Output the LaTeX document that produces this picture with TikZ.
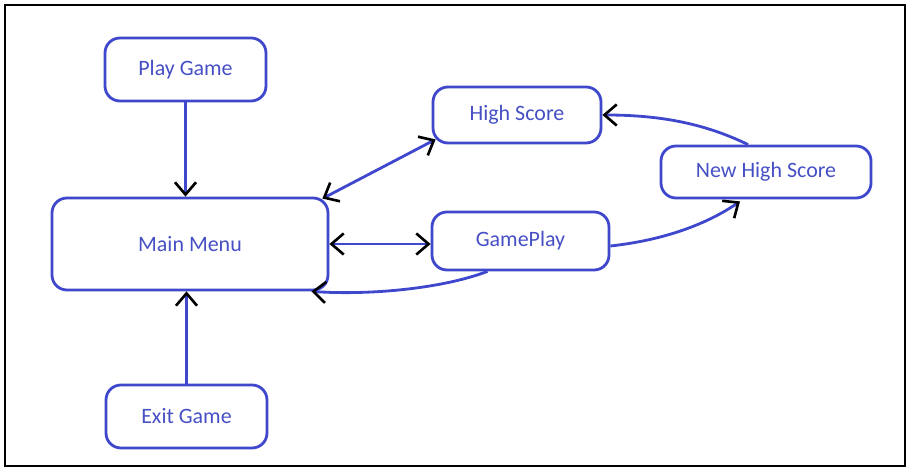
\documentclass[tikz,border=0pt]{standalone}
\usepackage{fontspec}
\setmainfont{Carlito}
\usetikzlibrary{positioning, arrows.meta, calc}
\definecolor{mnblue}{HTML}{3F48CC}
\definecolor{mntext}{HTML}{4650C4}

\begin{document}
\begin{tikzpicture}[x=0.02cm, y=-0.02cm,
    state/.style={draw=mnblue, line width=1.6pt, rounded corners=8.5pt, text=mntext,
      font=\fontsize{12.5}{15}\selectfont, inner sep=0pt},
    link/.style={draw=mnblue, line width=1.6pt},
    tip/.style={-{Straight Barb[black, length=7pt, width=12pt, line width=1.5pt]}},
    bothtip/.style={{Straight Barb[black, length=7pt, width=12pt, line width=1.5pt]}-{Straight Barb[black, length=7pt, width=12pt, line width=1.5pt]}}]
        \useasboundingbox (0,0) rectangle (910,472);
        \draw[black, line width=0.6pt] (5,5) rectangle (905,466);
        \node[state, minimum width=161*0.02cm, minimum height=63*0.02cm] (play) at (185.5,69.5) {Play Game};
        \node[state, minimum width=276*0.02cm, minimum height=92*0.02cm] (menu) at (190,244) {Main Menu};
        \node[state, minimum width=161*0.02cm, minimum height=63*0.02cm] (exit) at (186.5,416.5) {Exit Game};
        \node[state, minimum width=168*0.02cm, minimum height=56*0.02cm] (high) at (517,115) {High Score};
        \node[state, minimum width=177*0.02cm, minimum height=58*0.02cm] (game) at (520.5,241) {GamePlay};
        \node[state, minimum width=210*0.02cm, minimum height=52*0.02cm] (newhigh) at (766,172) {New High Score};
        \draw[link, tip] (play.south) -- (menu.north -| play.south);
        \draw[link, tip] (exit.north) -- (menu.south -| exit.north);
        \draw[link, bothtip] ($(menu.north east)+(-7,2)$) -- ($(high.south west)+(4,-5)$);
        \draw[link, bothtip] (menu.east) -- (game.west |- menu.east);
        \draw[link, tip] ($(game.south)+(-33,0)$) .. controls +(-45,17) and +(60,4) .. ($(menu.south east)+(-18,0)$);
        \draw[link, tip] ($(game.east)+(0,5)$) .. controls +(55,-6) and +(-32,22) .. ($(newhigh.south)+(-26,2)$);
        \draw[link, tip] ($(newhigh.north)+(-18,0)$) .. controls +(-45,-22) and +(55,0) .. (high.east);
\end{tikzpicture}
\end{document}
